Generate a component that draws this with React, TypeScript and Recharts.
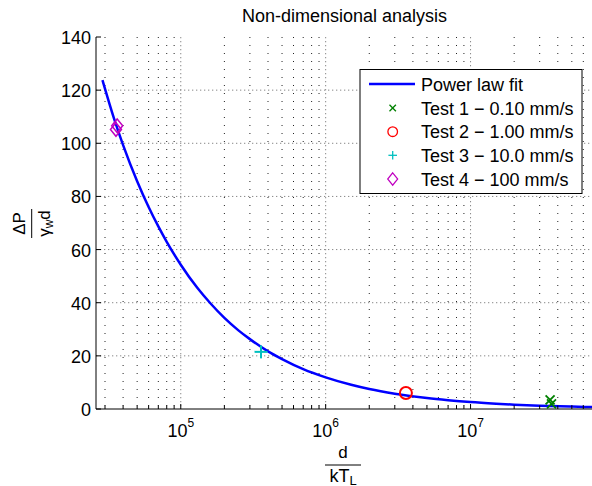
import React from 'react';
import { ComposedChart, Line, Scatter, XAxis, YAxis, CartesianGrid } from 'recharts';

const FONT = "'Liberation Sans', Arial, Helvetica, sans-serif";

// Power law fit
const fitX = [28800, 35000, 40000, 50000, 60000, 70000, 80000, 100000, 130000, 160000, 200000, 250000, 300000, 400000, 500000, 700000, 1000000, 1500000, 2000000, 3000000, 5000000, 7000000, 10000000, 15000000, 20000000, 30000000, 50000000, 70000000];
const fitY = [123.8, 108.5, 99.3, 85.7, 76.0, 68.7, 62.9, 54.3, 45.6, 39.8, 34.3, 29.6, 26.3, 21.7, 18.8, 15.0, 11.9, 9.1, 7.5, 5.75, 4.1, 3.3, 2.6, 2.0, 1.64, 1.26, 0.9, 0.72];

const test1X = [35400000, 36200000];
const test1Y = [3.4, 1.9];
const test2X = [3580000];
const test2Y = [6.0];
const test3X = [358000];
const test3Y = [21.5];
const test4X = [35700, 36400];
const test4Y = [105.2, 106.6];

const seriesNames = ['Power law fit', 'Test 1 \u2212 0.10 mm/s', 'Test 2 \u2212 1.00 mm/s', 'Test 3 \u2212 10.0 mm/s', 'Test 4 \u2212 100 mm/s'];
const titleText = 'Non-dimensional analysis';

const xMajorTicks = [100000, 1000000, 10000000];
const xMinorTicks = [30000, 40000, 50000, 60000, 70000, 80000, 90000, 200000, 300000, 400000, 500000, 600000, 700000, 800000, 900000, 2000000, 3000000, 4000000, 5000000, 6000000, 7000000, 8000000, 9000000, 20000000, 30000000, 40000000, 50000000, 60000000, 70000000];
const yTicks = [0, 20, 40, 60, 80, 100, 120, 140];
const yGridValues = [20, 40, 60, 80, 100, 120];
const xDomain = [26000, 70000000];
const yDomain = [0, 140];

const zip = (xs: number[], ys: number[]) => xs.map((x, i) => ({ x, y: ys[i] }));
const fitData = zip(fitX, fitY);
const test1Data = zip(test1X, test1Y);
const test2Data = zip(test2X, test2Y);
const test3Data = zip(test3X, test3Y);
const test4Data = zip(test4X, test4Y);
const allXTicks = [...xMinorTicks, ...xMajorTicks].sort((a, b) => a - b);

const C_LINE = '#0000ff';
const C_T1 = '#008000';
const C_T2 = '#ff0000';
const C_T3 = '#00bfbf';
const C_T4 = '#c000c0';

const XMark = ({ cx, cy, s = 4.5, w = 1.8 }: any) => (
  <g>
    <line x1={cx - s} y1={cy - s} x2={cx + s} y2={cy + s} stroke={C_T1} strokeWidth={w} />
    <line x1={cx - s} y1={cy + s} x2={cx + s} y2={cy - s} stroke={C_T1} strokeWidth={w} />
  </g>
);
const CircleMark = ({ cx, cy, r = 6, w = 2 }: any) => (
  <circle cx={cx} cy={cy} r={r} fill="none" stroke={C_T2} strokeWidth={w} />
);
const PlusMark = ({ cx, cy, s = 6.5, w = 2 }: any) => (
  <g>
    <line x1={cx - s} y1={cy} x2={cx + s} y2={cy} stroke={C_T3} strokeWidth={w} />
    <line x1={cx} y1={cy - s} x2={cx} y2={cy + s} stroke={C_T3} strokeWidth={w} />
  </g>
);
const DiamondMark = ({ cx, cy, hw = 5.5, hh = 6.8, w = 1.5 }: any) => (
  <polygon points={`${cx},${cy - hh} ${cx + hw},${cy} ${cx},${cy + hh} ${cx - hw},${cy}`} fill="none" stroke={C_T4} strokeWidth={w} />
);

const XTickBottom = (props: any) => {
  const { x, y, payload } = props;
  const v = payload.value;
  const major = xMajorTicks.includes(v);
  return (
    <g>
      <line x1={x} y1={y} x2={x} y2={y - (major ? 5 : 3.5)} stroke="#000" strokeWidth={1} />
      {major && (
        <text x={x} y={y + 28} textAnchor="middle" fontSize={18} fill="#000" fontFamily={FONT}>
          10<tspan dy={-10} fontSize={12}>{Math.round(Math.log10(v))}</tspan>
        </text>
      )}
    </g>
  );
};
const XTickTop = (props: any) => {
  const { x, y, payload } = props;
  const major = xMajorTicks.includes(payload.value);
  return <line x1={x} y1={y} x2={x} y2={y + (major ? 5 : 3.5)} stroke="#000" strokeWidth={1} />;
};
const YTickLeft = (props: any) => {
  const { x, y, payload } = props;
  return (
    <g>
      <line x1={x} y1={y} x2={x + 5} y2={y} stroke="#000" strokeWidth={1} />
      <text x={x - 5} y={y + 7} textAnchor="end" fontSize={18} fill="#000" fontFamily={FONT}>{payload.value}</text>
    </g>
  );
};
const YTickRight = (props: any) => {
  const { x, y } = props;
  return <line x1={x} y1={y} x2={x - 5} y2={y} stroke="#000" strokeWidth={1} />;
};

const legendRows = [84, 108, 131.7, 155.3, 179];

export default function App() {
  return (
    <div style={{ position: 'absolute', left: 0, top: 0, width: 592, height: 486, overflow: 'hidden', background: '#fff' }}>
      <ComposedChart width={600} height={486} margin={{ top: 37, right: 6, bottom: 0, left: 0 }} style={{ fontFamily: FONT }}>
        <CartesianGrid horizontal={false} verticalValues={xMinorTicks} stroke="#222" strokeDasharray="1 7" strokeWidth={1} />
        <CartesianGrid verticalValues={xMajorTicks} horizontalValues={yGridValues} stroke="#888" strokeDasharray="1.3 2.7" strokeWidth={1} />
        <XAxis dataKey="x" type="number" scale="log" domain={xDomain} allowDataOverflow ticks={allXTicks} interval={0}
          tickSize={0} tickMargin={0} tick={<XTickBottom />} height={77} axisLine={{ stroke: '#000', strokeWidth: 1 }} tickLine={false} />
        <XAxis xAxisId="top" orientation="top" type="number" scale="log" domain={xDomain} allowDataOverflow ticks={allXTicks} interval={0}
          tickSize={0} tickMargin={0} tick={<XTickTop />} height={0} axisLine={{ stroke: '#000', strokeWidth: 1 }} tickLine={false} />
        <YAxis dataKey="y" type="number" domain={yDomain} ticks={yTicks} interval={0} width={96}
          tickSize={0} tickMargin={0} tick={<YTickLeft />} axisLine={{ stroke: '#000', strokeWidth: 1 }} tickLine={false} />
        <YAxis yAxisId="right" orientation="right" type="number" domain={yDomain} ticks={yTicks} interval={0} width={1}
          tickSize={0} tickMargin={0} tick={<YTickRight />} axisLine={{ stroke: '#000', strokeWidth: 1 }} tickLine={false} />
        <Line data={fitData} dataKey="y" type="monotone" stroke={C_LINE} strokeWidth={2.5} dot={false} isAnimationActive={false} name={seriesNames[0]} />
        <Scatter data={test1Data} dataKey="y" isAnimationActive={false} shape={(p: any) => <XMark cx={p.cx} cy={p.cy} />} name={seriesNames[1]} />
        <Scatter data={test2Data} dataKey="y" isAnimationActive={false} shape={(p: any) => <CircleMark cx={p.cx} cy={p.cy} />} name={seriesNames[2]} />
        <Scatter data={test3Data} dataKey="y" isAnimationActive={false} shape={(p: any) => <PlusMark cx={p.cx} cy={p.cy} />} name={seriesNames[3]} />
        <Scatter data={test4Data} dataKey="y" isAnimationActive={false} shape={(p: any) => <DiamondMark cx={p.cx} cy={p.cy} />} name={seriesNames[4]} />
      </ComposedChart>
      <svg width={592} height={486} style={{ position: 'absolute', left: 0, top: 0, pointerEvents: 'none' }} fontFamily={FONT}>
        <text x={344.5} y={22} textAnchor="middle" fontSize={18} fill="#000">{titleText}</text>
        {/* x label */}
        <text x={343} y={457.5} textAnchor="middle" fontSize={17} fill="#000">d</text>
        <line x1={325} y1={465} x2={361} y2={465} stroke="#000" strokeWidth={1} />
        <text x={343} y={481.5} textAnchor="middle" fontSize={18} fill="#000">kT<tspan dy={3} fontSize={13}>L</tspan></text>
        {/* y label */}
        <g transform="translate(0,223.5) rotate(-90)">
          <text x={0} y={25} textAnchor="middle" fontSize={17} fill="#000">{'\u0394P'}</text>
          <line x1={-14.5} y1={31.7} x2={14.5} y2={31.7} stroke="#000" strokeWidth={1} />
          <text x={0} y={49.5} textAnchor="middle" fontSize={17} fill="#000">{'\u03b3'}<tspan dy={3} fontSize={12}>w</tspan><tspan dy={-3}>d</tspan></text>
        </g>
        {/* legend */}
        <rect x={360} y={69.5} width={222} height={124} fill="#fff" stroke="#000" strokeWidth={1} />
        <line x1={369} y1={legendRows[0]} x2={415} y2={legendRows[0]} stroke={C_LINE} strokeWidth={2.5} />
        <XMark cx={392.7} cy={legendRows[1]} s={3.2} w={1.3} />
        <CircleMark cx={392.7} cy={legendRows[2]} r={4.8} w={1.3} />
        <PlusMark cx={392.7} cy={legendRows[3]} s={4.3} w={1.3} />
        <DiamondMark cx={392.7} cy={legendRows[4]} hw={5} hh={6.2} w={1.2} />
        {seriesNames.map((n, i) => (
          <text key={n} x={421} y={legendRows[i] + 6.5} fontSize={18} fill="#000">{n}</text>
        ))}
      </svg>
    </div>
  );
}
